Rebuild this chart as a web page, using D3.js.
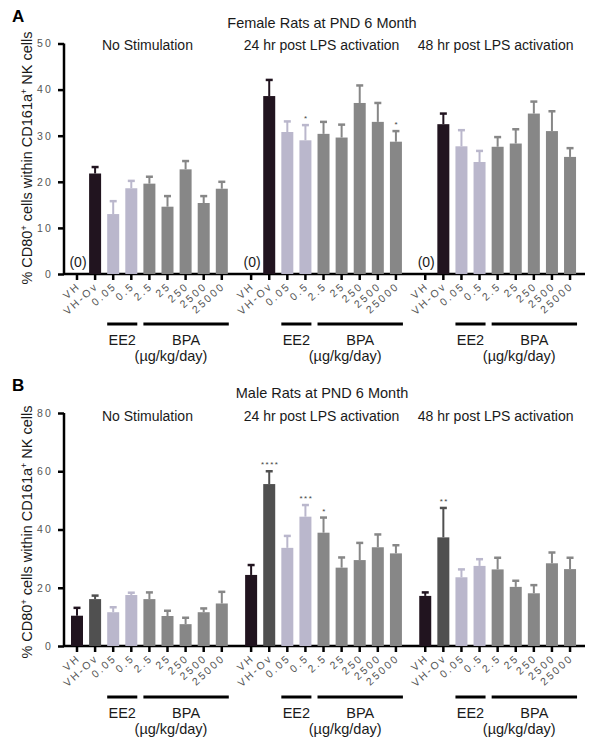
<!DOCTYPE html>
<html><head><meta charset="utf-8">
<script src="https://cdn.jsdelivr.net/npm/d3@7"></script>
<style>
body{margin:0;background:#fff;}
svg{display:block;font-family:"Liberation Sans",Arial,sans-serif;}
</style></head>
<body><svg id="c" width="596" height="745"></svg>
<script>
// ---------- DATA ----------
const doses = ["VH","VH-Ov","0.05","0.5","2.5","25","250","2500","25000"];
const conditions = ["No Stimulation","24 hr post LPS activation","48 hr post LPS activation"];
const treat = ["veh","veh","ee2","ee2","bpa","bpa","bpa","bpa","bpa"];

// Female (panel A) means and SEM per condition
const femaleMeans = [
  [0, 21.8, 13.0, 18.6, 19.6, 14.6, 22.7, 15.4, 18.5],
  [0, 38.6, 30.8, 29.0, 30.4, 29.6, 37.1, 33.0, 28.7],
  [0, 32.5, 27.7, 24.3, 27.6, 28.3, 34.8, 31.0, 25.4]
];
const femaleErr = [
  [0, 1.4, 2.8, 1.6, 1.5, 2.3, 1.8, 1.5, 1.5],
  [0, 3.5, 2.3, 3.3, 2.6, 2.8, 3.8, 4.1, 2.3],
  [0, 2.3, 3.5, 2.4, 2.1, 3.1, 2.6, 4.3, 1.9]
];
const femaleStars = [
  ["","","","","","","","",""],
  ["","","","*","","","","","*"],
  ["","","","","","","","",""]
];
const femaleZero = [
  ["(0)","","","","","","","",""],
  ["(0)","","","","","","","",""],
  ["(0)","","","","","","","",""]
];

// Male (panel B)
const maleMeans = [
  [10.4, 16.1, 11.6, 17.5, 16.1, 10.3, 7.5, 11.6, 14.6],
  [24.4, 55.6, 33.7, 44.4, 38.9, 26.9, 29.5, 33.9, 31.8],
  [17.2, 37.3, 23.6, 27.5, 26.3, 20.3, 18.1, 28.4, 26.4]
];
const maleErr = [
  [2.7, 1.2, 1.7, 0.8, 2.3, 1.8, 2.2, 1.3, 4.0],
  [3.4, 4.4, 4.1, 4.0, 5.2, 3.5, 5.9, 4.4, 2.8],
  [1.2, 10.1, 2.7, 2.3, 4.0, 2.1, 2.8, 3.7, 3.9]
];
const maleStars = [
  ["","","","","","","","",""],
  ["","****","","***","*","","","",""],
  ["","**","","","","","","",""]
];

const femaleTicks = [0,10,20,30,40,50];
const maleTicks = [0,20,40,60,80];

// ---------- STYLE ----------
const colFemale = {veh0:"#21141f", veh1:"#21141f", ee2:"#bab7cc", bpa:"#878787"};
const colMale   = {veh0:"#21141f", veh1:"#505050", ee2:"#bab7cc", bpa:"#878787"};

const svg = d3.select("#c");
const slot = 18.1, groupStride = 9.62;
const x = d3.scaleLinear().domain([0, 2*groupStride + 8]).range([77, 77 + (2*groupStride+8)*slot]);
const barW = 12;
const txt = "#1a1a1a";

function panel(opts){
  const g = svg.append("g");
  const y = d3.scaleLinear().domain([0, opts.ymax]).range([opts.y0, opts.ytop]);
  const axisLeft = 64, axisRight = 585;

  g.append("text").attr("x", 12).attr("y", opts.letterY).attr("font-size", 17).attr("font-weight","bold").attr("fill","#000").text(opts.letter);
  g.append("text").attr("x", 322).attr("y", opts.titleY).attr("text-anchor","middle").attr("font-size", 14.5).attr("fill",txt).text(opts.title);
  conditions.forEach((c,gi)=>{
    const cx = (x(gi*groupStride) + x(gi*groupStride+8))/2 - 2;
    g.append("text").attr("x", cx).attr("y", opts.subY).attr("text-anchor","middle").attr("font-size", 14).attr("fill",txt).text(c);
  });

  const yAx = d3.axisLeft(y).tickValues(opts.ticks).tickSize(6).tickPadding(5);
  const ya = g.append("g").attr("transform",`translate(${axisLeft},0)`).call(yAx);
  ya.select(".domain").attr("stroke","#000").attr("stroke-width",2.5).attr("d",`M0,${opts.y0}V${opts.ytop}`);
  ya.selectAll(".tick line").attr("stroke","#000").attr("stroke-width",2.5);
  ya.selectAll(".tick text").attr("font-size",10.5).attr("fill","#555").attr("letter-spacing","2.2px")
    .attr("font-family","'Liberation Sans',Arial,sans-serif");

  g.append("text").attr("transform",`translate(32,${opts.labelY}) rotate(-90)`).attr("text-anchor","middle")
    .attr("font-size",14.5).attr("fill",txt)
    .html('% CD80<tspan dy="-5" font-size="9">+</tspan><tspan dy="5"> cells within CD161a</tspan><tspan dy="-5" font-size="9">+</tspan><tspan dy="5"> NK cells</tspan>');

  g.append("line").attr("x1",axisLeft).attr("x2",axisRight).attr("y1",opts.y0).attr("y2",opts.y0).attr("stroke","#000").attr("stroke-width",2.5);

  const data = [];
  opts.means.forEach((arr,gi)=>arr.forEach((v,i)=>{
    data.push({gi,i,v,e:opts.errs[gi][i],star:opts.stars[gi][i],zero:opts.zero?opts.zero[gi][i]:"",pos:x(gi*groupStride+i)});
  }));
  const colOf = d=> d.i===0 ? opts.col.veh0 : d.i===1 ? opts.col.veh1 : opts.col[treat[d.i]];

  g.selectAll(".xt").data(data).enter().append("line")
    .attr("x1",d=>d.pos).attr("x2",d=>d.pos).attr("y1",opts.y0).attr("y2",opts.y0+6)
    .attr("stroke","#000").attr("stroke-width",2.5);
  g.selectAll(".xl").data(data).enter().append("text")
    .attr("transform",d=>`translate(${d.pos+4},${opts.y0+13}) rotate(-42)`)
    .attr("text-anchor","end").attr("font-size",10.5).attr("letter-spacing","2.2px").attr("fill","#555")
    .text(d=>doses[d.i]);

  const eb = data.filter(d=>d.v>0);
  g.selectAll(".el").data(eb).enter().append("line")
    .attr("x1",d=>d.pos).attr("x2",d=>d.pos).attr("y1",d=>y(d.v)).attr("y2",d=>y(d.v+d.e))
    .attr("stroke",colOf).attr("stroke-width",2);
  g.selectAll(".ec").data(eb).enter().append("line")
    .attr("x1",d=>d.pos-3.5).attr("x2",d=>d.pos+3.5).attr("y1",d=>y(d.v+d.e)).attr("y2",d=>y(d.v+d.e))
    .attr("stroke",colOf).attr("stroke-width",2.5);
  g.selectAll(".b").data(eb).enter().append("rect")
    .attr("x",d=>d.pos-barW/2).attr("width",barW).attr("y",d=>y(d.v)).attr("height",d=>y(0)-y(d.v))
    .attr("fill",colOf);
  g.selectAll(".s").data(data.filter(d=>d.star)).enter().append("text")
    .attr("x",d=>d.pos+1).attr("y",d=>y(d.v+d.e)-4).attr("text-anchor","middle")
    .attr("font-size",8).attr("letter-spacing","1.5px").attr("fill","#444").text(d=>d.star);
  g.selectAll(".z").data(data.filter(d=>d.zero)).enter().append("text")
    .attr("x",d=>d.pos+1).attr("y",opts.y0-7).attr("text-anchor","middle")
    .attr("font-size",14).attr("fill","#1a1a1a").style("fill","#1a1a1a").text(d=>d.zero);

  conditions.forEach((c,gi)=>{
    const b = gi*groupStride;
    const ee = [x(b+2)-6, x(b+3)+6], bp = [x(b+4)-6, x(b+8)+7];
    g.append("line").attr("x1",ee[0]).attr("x2",ee[1]).attr("y1",opts.brY).attr("y2",opts.brY).attr("stroke","#000").attr("stroke-width",3);
    g.append("line").attr("x1",bp[0]).attr("x2",bp[1]).attr("y1",opts.brY).attr("y2",opts.brY).attr("stroke","#000").attr("stroke-width",3);
    g.append("text").attr("x",(ee[0]+ee[1])/2).attr("y",opts.brY+21).attr("text-anchor","middle").attr("font-size",14.5).attr("fill",txt).text("EE2");
    g.append("text").attr("x",(bp[0]+bp[1])/2).attr("y",opts.brY+21).attr("text-anchor","middle").attr("font-size",14.5).attr("fill",txt).text("BPA");
    g.append("text").attr("x",(ee[0]+bp[1])/2 + 3).attr("y",opts.brY+37).attr("text-anchor","middle").attr("font-size",14.5).attr("fill",txt).text("(µg/kg/day)");
  });
}

panel({letter:"A", letterY:22, title:"Female Rats at PND 6 Month", titleY:28, subY:50,
  ymax:50, y0:274, ytop:43.5, ticks:femaleTicks, labelY:158,
  means:femaleMeans, errs:femaleErr, stars:femaleStars, zero:femaleZero, col:colFemale, brY:324});
panel({letter:"B", letterY:391, title:"Male Rats at PND 6 Month", titleY:398, subY:421,
  ymax:80, y0:646, ytop:413, ticks:maleTicks, labelY:532,
  means:maleMeans, errs:maleErr, stars:maleStars, zero:null, col:colMale, brY:697});
</script></body></html>
